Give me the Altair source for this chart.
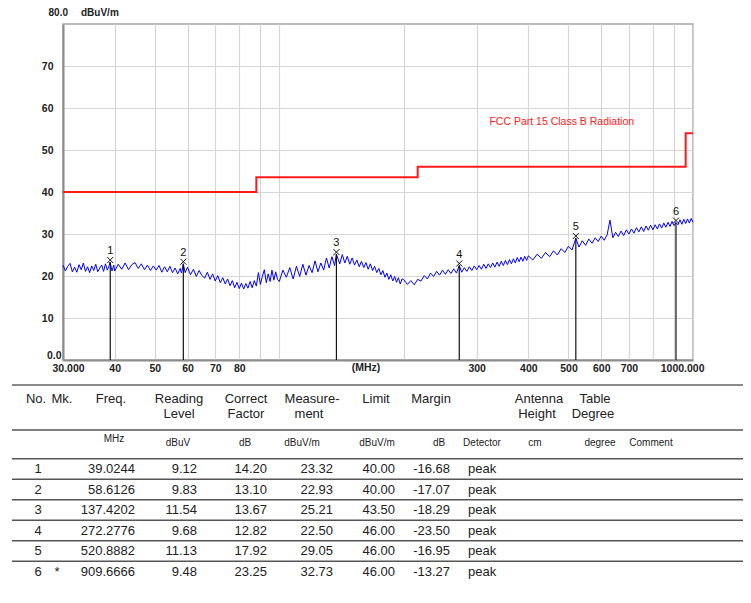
import altair as alt
import pandas as pd

# ---------------- data ----------------
TRACE_FREQ_MHZ = [
    30.0, 30.4, 30.8, 31.2, 31.6, 32.0, 32.4, 32.8, 33.2, 33.6,
    34.0, 34.4, 34.8, 35.2, 35.6, 36.0, 36.4, 36.8, 37.2, 37.6,
    38.0, 38.4, 38.8, 39.0, 39.4, 39.8,
    40.0, 40.8, 41.6, 42.4, 43.2, 44.0, 44.8, 45.6, 46.4, 47.2,
    48.0, 48.8, 49.6, 50.4, 51.2, 52.0, 52.8, 53.6, 54.4, 55.2,
    56.0, 56.8, 57.6, 58.0, 58.6, 59.2,
    60, 61, 62, 63, 64, 65, 66, 67, 68, 69,
    70, 71, 72, 73, 74, 75, 76, 77, 78, 79,
    80, 81, 82, 83, 84, 85, 86, 87, 88, 89,
    90, 91, 92, 93, 94, 95, 96, 97, 98, 99,
    100, 102, 104, 106, 108, 110, 112, 114, 116, 118,
    120, 122, 124, 126, 128, 130, 132, 134, 136, 137.4,
    140, 142, 144, 146, 148, 150, 152, 154, 156, 158,
    160, 162, 164, 166, 168, 170, 172, 174, 176, 178,
    180, 182, 184, 186, 188, 190, 192, 194, 196, 198,
    200, 204, 208, 212, 216, 220, 224, 228, 232, 236,
    240, 244, 248, 252, 256, 260, 264, 268, 272.3, 276,
    280, 284, 288, 292, 296, 300, 304, 308, 312, 316,
    320, 324, 328, 332, 336, 340, 344, 348, 352, 356,
    360, 364, 368, 372, 376, 380, 384, 388, 392, 396,
    400, 410, 420, 430, 440, 450, 460, 470, 480, 490,
    500, 510, 520.9, 530, 540, 550, 560, 570, 580, 590,
    600, 610, 620, 630, 640, 650, 660, 670, 680, 690,
    700, 710, 720, 730, 740, 750, 760, 770, 780, 790,
    800, 810, 820, 830, 840, 850, 860, 870, 880, 890,
    900, 909.7, 920, 930, 940, 950, 960, 970, 980, 990,
    1000,
]
TRACE_LEVEL = [
    22.6, 21.2, 22.3, 23.0, 21.0, 22.1, 20.9, 22.7, 21.5, 23.1,
    21.1, 22.2, 20.8, 22.4, 21.3, 22.8, 21.0, 21.9, 22.6, 21.1,
    22.9, 21.4, 22.5, 23.3, 21.2, 22.6,
    21.2, 22.8, 21.6, 23.1, 21.5, 22.7, 23.2, 21.8, 22.9, 21.5,
    22.6, 21.3, 22.4, 21.4, 22.5, 20.9, 22.2, 21.0, 22.3, 20.8,
    21.9, 20.5, 21.8, 20.7, 22.9, 20.8,
    22.1, 20.3, 21.6, 19.9, 21.3, 20.1, 19.5, 20.9, 19.2, 20.5,
    18.8, 20.1, 18.4, 19.6, 18.1, 19.3, 17.7, 18.9, 17.2, 18.5,
    17.0, 18.3, 16.9, 18.2, 17.1, 18.7, 17.2, 18.9, 17.6, 20.8,
    18.0, 19.9, 21.5, 18.4, 20.5, 18.7, 21.4, 19.0, 21.0, 19.2,
    18.7, 21.4, 19.7, 22.0, 19.3, 22.3, 19.9, 22.8, 20.2, 22.5,
    20.8, 23.6, 21.0, 23.1, 21.4, 24.3, 21.9, 24.6, 22.5, 25.2,
    22.9, 25.1, 23.1, 24.7, 22.8, 24.3, 22.6, 23.8, 22.2, 23.5,
    22.0, 23.2, 21.6, 22.9, 21.3, 22.3, 20.8, 21.8, 20.3, 21.3,
    19.7, 20.7, 19.2, 20.3, 18.8, 19.9, 18.5, 19.6, 18.1, 19.3,
    19.1, 18.0, 18.9, 17.9, 19.2, 18.8, 20.1, 19.3, 20.7, 19.9,
    21.1, 20.2, 21.4, 20.4, 21.5, 20.6, 21.7, 20.7, 22.5, 20.9,
    22.0, 21.1, 22.2, 21.3, 22.4, 21.5, 22.5, 21.6, 22.8, 21.8,
    22.9, 22.0, 23.1, 22.1, 23.3, 22.3, 23.5, 22.5, 23.7, 22.7,
    23.9, 22.9, 24.1, 23.1, 24.4, 23.4, 24.5, 23.5, 24.7, 23.7,
    24.8, 23.8, 25.2, 24.2, 25.6, 24.6, 26.0, 25.0, 26.5, 25.6,
    27.1, 26.2, 29.0, 26.9, 28.4, 27.3, 28.8, 27.8, 29.1, 28.2,
    29.5, 28.5, 29.8, 33.3, 29.1, 30.4, 29.4, 30.7, 29.6, 31.0,
    30.0, 31.2, 30.2, 31.5, 30.5, 31.7, 30.6, 31.9, 30.9, 32.1,
    31.0, 32.2, 31.2, 32.4, 31.4, 32.6, 31.6, 32.8, 31.8, 33.0,
    32.0, 32.7, 32.2, 33.4, 32.3, 33.5, 32.5, 33.6, 32.6, 33.7,
    32.8,
]

LIMIT_FREQ_MHZ = [30, 88, 216, 960, 1000]
LIMIT_LEVEL = [40.0, 43.5, 46.0, 54.0, 54.0]
LIMIT_NAME = "FCC Part 15 Class B Radiation"

MARKER_NO = [1, 2, 3, 4, 5, 6]
MARKER_MK = ["", "", "", "", "", "*"]
MARKER_FREQ = [39.0244, 58.6126, 137.4202, 272.2776, 520.8882, 909.6666]
READING = [9.12, 9.83, 11.54, 9.68, 11.13, 9.48]
CORRECT = [14.20, 13.10, 13.67, 12.82, 17.92, 23.25]
MEASUREMENT = [23.32, 22.93, 25.21, 22.50, 29.05, 32.73]
LIMIT = [40.00, 40.00, 43.50, 46.00, 46.00, 46.00]
MARGIN = [-16.68, -17.07, -18.29, -23.50, -16.95, -13.27]
DETECTOR = ["peak", "peak", "peak", "peak", "peak", "peak"]

Y_TICKS = [0, 10, 20, 30, 40, 50, 60, 70]
X_GRID = [30, 40, 50, 60, 70, 80, 90, 100, 200, 300, 400, 500, 600, 700, 800, 900, 1000]
X_LABELS = {30: "30.000", 40: "40", 50: "50", 60: "60", 70: "70", 80: "80",
            300: "300", 400: "400", 500: "500", 600: "600", 700: "700", 1000: "1000.000"}
Y_TOP_LABEL = "80.0"
Y_UNIT = "dBuV/m"
X_UNIT = "(MHz)"

HEADER_LINE1 = ["No.", "Mk.", "Freq.", "Reading", "Correct", "Measure-", "Limit", "Margin", "Antenna", "Table"]
HEADER_LINE2 = ["Level", "Factor", "ment", "Height", "Degree"]
UNIT_ROW = ["dBuV", "dB", "dBuV/m", "dBuV/m", "dB", "Detector", "cm", "degree", "Comment"]
FREQ_UNIT = "MHz"

assert len(TRACE_FREQ_MHZ) == len(TRACE_LEVEL)

# ---------------- layout (page-pixel anchors for the table) ----------------
H1_X = [36, 62, 111, 179, 246, 312, 376, 431, 539, 595]
H2_X = [179, 246, 309, 537, 593]
UNIT_X = [178, 245, 302, 377, 439, 482, 535, 600, 651]
H1_R, H2_R, UNIT_R, FREQ_UNIT_R = -2.42, -1.69, -0.27, -0.46
FREQ_UNIT_X = 114
COL_NO_X, COL_MK_X, COL_DET_X = 38, 57, 468
RIGHT_COL_X = [135, 197, 267, 333, 395, 450]
RULE_R = [-3.1, -0.9, 0.5, 1.5, 2.5, 3.5, 4.5, 5.5]
RULE_W = [2.0, 1.5, 1.5, 1.5, 1.5, 1.5, 1.5, 1.5]
RULE_C = ["#8a8a8a", "#555555", "#555555", "#555555", "#555555", "#555555", "#555555", "#555555"]

FONT = "Liberation Sans"

# ---------------- plot ----------------
trace_df = pd.DataFrame({"f": TRACE_FREQ_MHZ, "v": TRACE_LEVEL})
limit_df = pd.DataFrame({"f": LIMIT_FREQ_MHZ, "v": LIMIT_LEVEL})
marker_df = pd.DataFrame({"f": MARKER_FREQ, "v": MEASUREMENT, "no": [str(n) for n in MARKER_NO]})

label_expr = " : ".join(f"datum.value == {k} ? '{v}'" for k, v in X_LABELS.items()) + " : ''"

xs = alt.Scale(type="log", domain=[30, 1000], nice=False)
ys = alt.Scale(domain=[0, 80], nice=False)

x_axis = alt.Axis(values=X_GRID, labelExpr=label_expr, title=None, grid=True,
                  gridColor="#d6d6d6", gridWidth=1.2, ticks=False,
                  domainColor="#8c8c8c", domainWidth=2,
                  labelFont=FONT, labelFontSize=10.5, labelFontWeight="bold",
                  labelColor="#222222", labelPadding=3, labelFlush=True,
                  labelFlushOffset=11, labelOverlap=False)
y_axis = alt.Axis(values=Y_TICKS, labelExpr="datum.value == 0 ? '0.0' : datum.label",
                  title=None, grid=True, gridColor="#d6d6d6", gridWidth=1.2, ticks=False,
                  domainColor="#8c8c8c", domainWidth=2,
                  labelFont=FONT, labelFontSize=10.5, labelFontWeight="bold",
                  labelColor="#222222",
                  labelPadding={"condition": {"test": "datum.value == 0", "value": 2}, "value": 10},
                  labelBaseline={"condition": {"test": "datum.value == 0", "value": "bottom"},
                                 "value": "middle"})

X = alt.X("f:Q", scale=xs, axis=x_axis)
Y = alt.Y("v:Q", scale=ys, axis=y_axis)

trace = alt.Chart(trace_df).mark_line(color="#0000ff", strokeWidth=1).encode(x=X, y=Y)
limit = alt.Chart(limit_df).mark_line(color="#ff1a1a", strokeWidth=2,
                                      interpolate="step-after").encode(x=X, y=Y)
mrule = alt.Chart(marker_df).mark_rule(color="#111111", strokeWidth=1.2).encode(
    x=X, y=Y, y2=alt.datum(0))
mx = alt.Chart(marker_df).mark_point(shape="M-1,-1L1,1M-1,1L1,-1", size=36, filled=False,
                                     stroke="#111111", strokeWidth=1, opacity=1,
                                     yOffset=-2).encode(x=X, y=Y)
mnum = alt.Chart(marker_df).mark_text(dy=-11, fontSize=11, font=FONT,
                                      color="#111111").encode(x=X, y=Y, text="no:N")

top_df = pd.DataFrame({"f": [30], "v": [80], "a": [Y_TOP_LABEL], "b": [Y_UNIT]})
top80 = alt.Chart(top_df).mark_text(align="right", dx=5, dy=-11, fontSize=10, font=FONT,
                                    fontWeight="bold", color="#222222").encode(x=X, y=Y, text="a:N")
topunit = alt.Chart(top_df).mark_text(align="left", dx=18, dy=-11, fontSize=10, font=FONT,
                                      fontWeight="bold", color="#222222").encode(x=X, y=Y, text="b:N")
mhz_df = pd.DataFrame({"f": [162], "v": [0], "t": [X_UNIT]})
mhz = alt.Chart(mhz_df).mark_text(dy=8, fontSize=10.5, font=FONT, fontWeight="bold",
                                  color="#222222").encode(x=X, y=Y, text="t:N")
lname_df = pd.DataFrame({"f": [322], "v": [56.7], "t": [LIMIT_NAME]})
lname = alt.Chart(lname_df).mark_text(align="left", fontSize=10.5, font=FONT,
                                      color="#ff1a1a").encode(x=X, y=Y, text="t:N")

plot = alt.layer(trace, limit, mrule, mx, mnum, top80, topunit, mhz, lname)

# ---------------- table ----------------
tx = alt.Scale(domain=[0, 751], range=[-63, 688], nice=False, zero=False)
ty = alt.Scale(domain=[1, 6], range=[445, 547.5], nice=False, zero=False)
TX = alt.X("x:Q", scale=tx, axis=None)
TY = alt.Y("r:Q", scale=ty, axis=None)

rules_df = pd.DataFrame({"r": RULE_R, "x": [12] * len(RULE_R), "x2": [745] * len(RULE_R),
                         "w": RULE_W, "c": RULE_C})
rules = alt.Chart(rules_df).mark_rule().encode(
    x=TX, x2="x2:Q", y=TY,
    strokeWidth=alt.StrokeWidth("w:Q", scale=None),
    color=alt.Color("c:N", scale=None))

hdr_df = pd.DataFrame({
    "t": HEADER_LINE1 + HEADER_LINE2,
    "x": H1_X + H2_X,
    "r": [H1_R] * len(HEADER_LINE1) + [H2_R] * len(HEADER_LINE2),
})
hdr = alt.Chart(hdr_df).mark_text(fontSize=13, font=FONT, color="#222222").encode(
    x=TX, y=TY, text="t:N")

unit_df = pd.DataFrame({
    "t": UNIT_ROW + [FREQ_UNIT],
    "x": UNIT_X + [FREQ_UNIT_X],
    "r": [UNIT_R] * len(UNIT_ROW) + [FREQ_UNIT_R],
})
units = alt.Chart(unit_df).mark_text(fontSize=10, font=FONT, color="#222222").encode(
    x=TX, y=TY, text="t:N")

right_rows = []
for i in range(len(MARKER_NO)):
    vals = [f"{MARKER_FREQ[i]:.4f}", f"{READING[i]:.2f}", f"{CORRECT[i]:.2f}",
            f"{MEASUREMENT[i]:.2f}", f"{LIMIT[i]:.2f}", f"{MARGIN[i]:.2f}"]
    for xv, t in zip(RIGHT_COL_X, vals):
        right_rows.append({"x": xv, "r": MARKER_NO[i], "t": t})
right_df = pd.DataFrame(right_rows)
vals_right = alt.Chart(right_df).mark_text(align="right", fontSize=13, font=FONT,
                                           color="#222222").encode(x=TX, y=TY, text="t:N")

center_rows = []
for i in range(len(MARKER_NO)):
    center_rows.append({"x": COL_NO_X, "r": MARKER_NO[i], "t": str(MARKER_NO[i])})
    if MARKER_MK[i]:
        center_rows.append({"x": COL_MK_X, "r": MARKER_NO[i], "t": MARKER_MK[i]})
center_df = pd.DataFrame(center_rows)
vals_center = alt.Chart(center_df).mark_text(fontSize=13, font=FONT,
                                             color="#222222").encode(x=TX, y=TY, text="t:N")

left_df = pd.DataFrame({"x": [COL_DET_X] * len(DETECTOR), "r": MARKER_NO, "t": DETECTOR})
vals_left = alt.Chart(left_df).mark_text(align="left", fontSize=13, font=FONT,
                                         color="#222222").encode(x=TX, y=TY, text="t:N")

table = alt.layer(rules, hdr, units, vals_right, vals_center, vals_left)

chart = alt.layer(plot, table).resolve_scale(
    x="independent", y="independent"
).properties(
    width=630, height=336,
    autosize=alt.AutoSizeParams(type="none"),
    padding={"left": 55, "top": 16, "right": 50, "bottom": 235},
).configure_view(stroke="#a6a6a6", strokeWidth=1.5)

chart.save("out.html", embed_options={"renderer": "svg", "actions": False})
